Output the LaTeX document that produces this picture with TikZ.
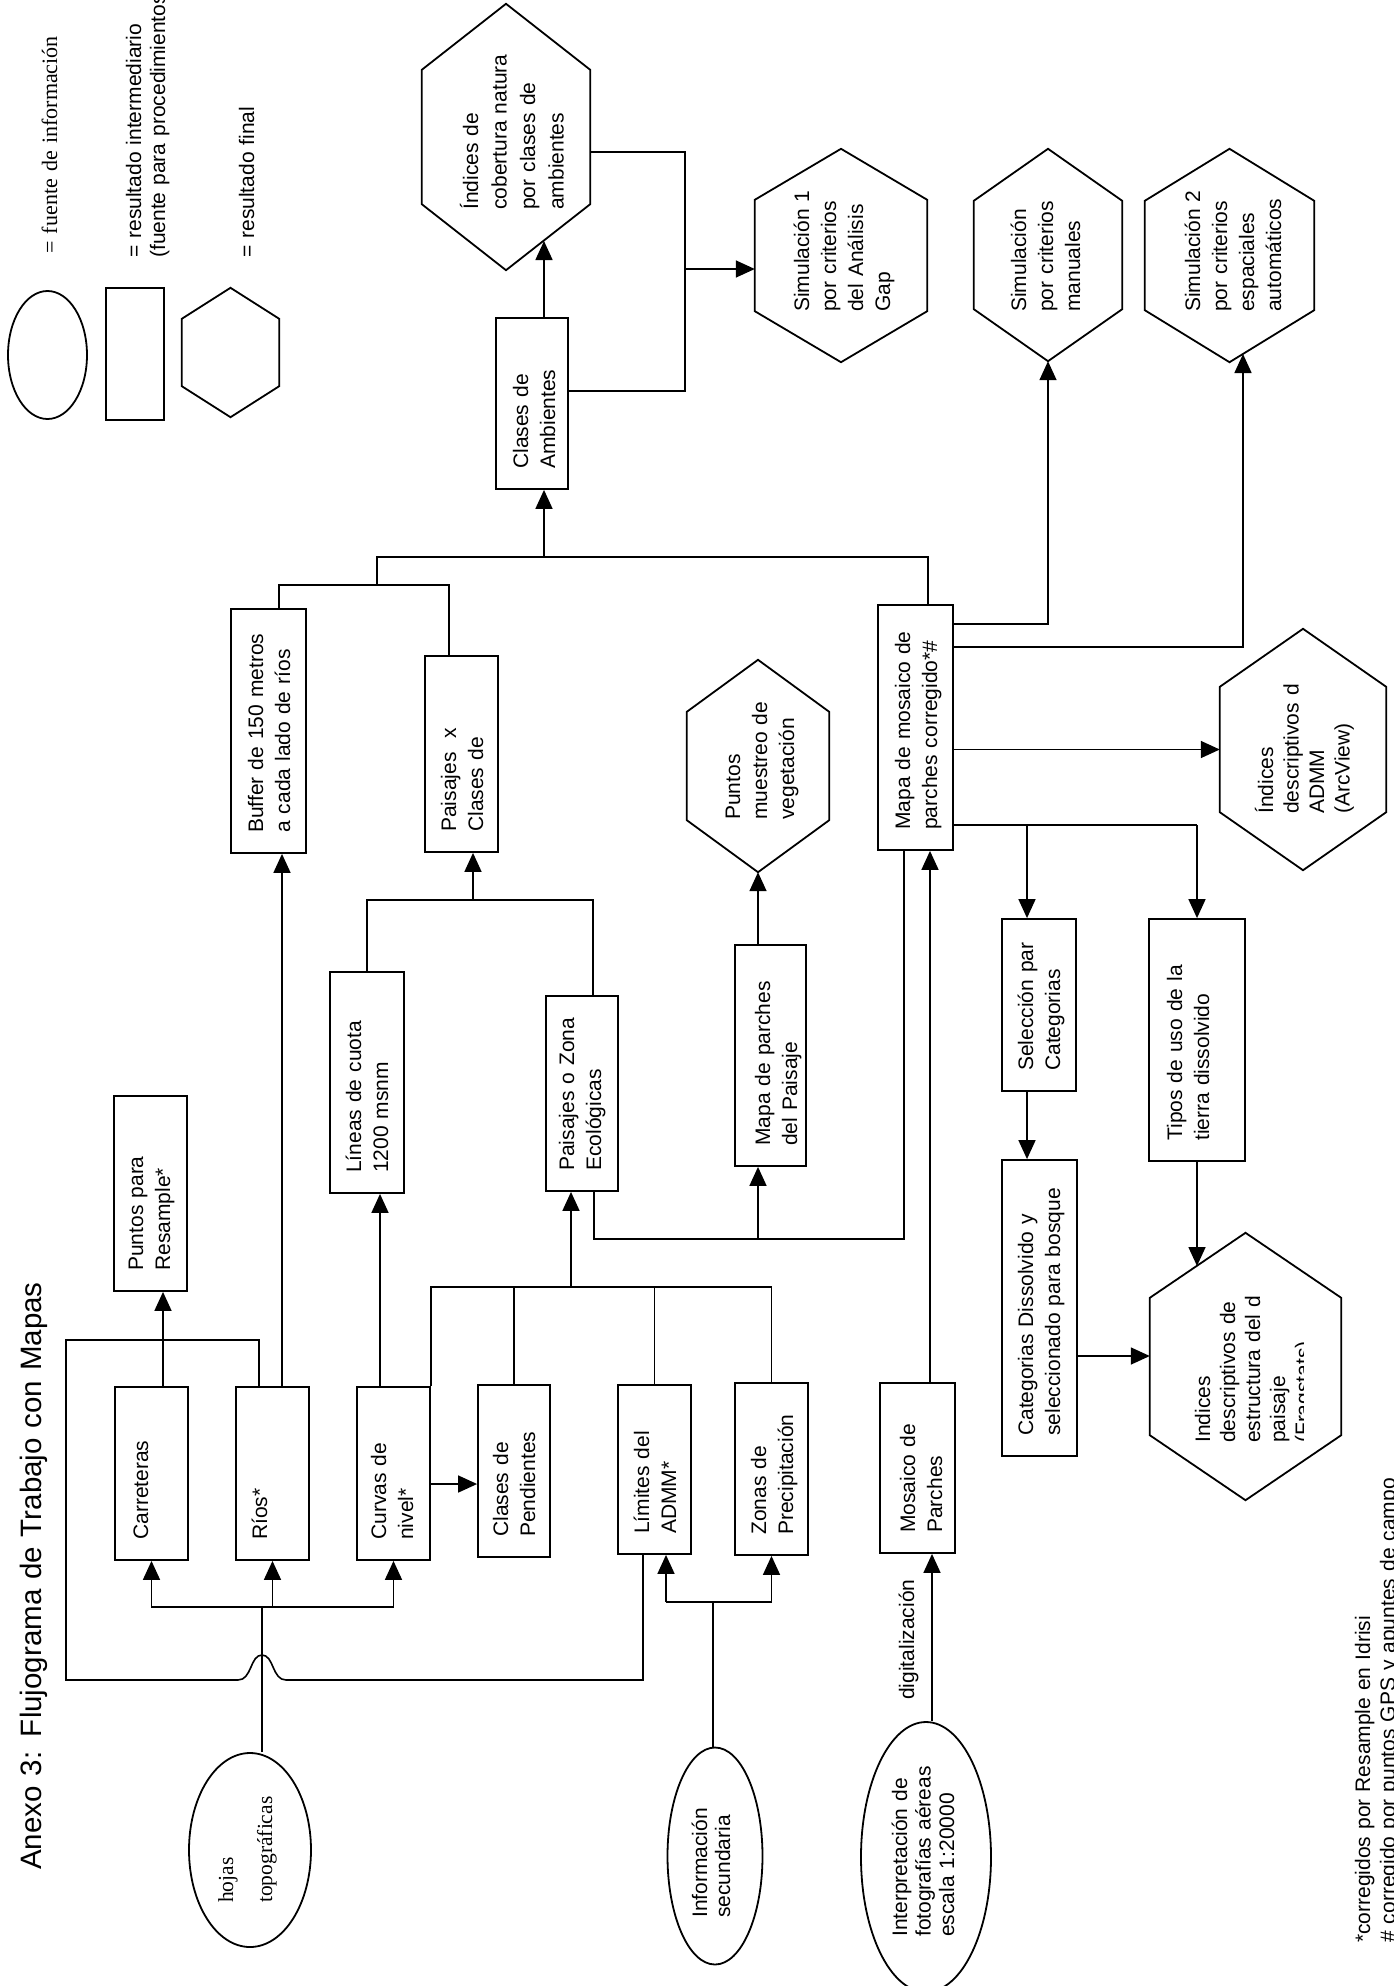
\documentclass[tikz,border=0pt]{standalone}
\usepackage{fontspec}
\setmainfont{Liberation Sans}
\newfontfamily\serifx{Liberation Serif}
\usetikzlibrary{arrows.meta,shapes.geometric}
\newcommand{\mybox}[5]{%
  \node[boxst, minimum width={(#3)-(#2)}, minimum height={(#5)-(#4)}] (#1) at ({((#2)+(#3))/2},{((#4)+(#5))/2}) {};}
\newcommand{\myhex}[6]{%
  \node[hexbb, minimum width={(#3)-(#2)}, minimum height={(#5)-(#4)}] (#1) at ({((#2)+(#3))/2},{((#4)+(#5))/2}) {};
  \draw[shp] (#1.north) -- ([yshift=-#6]#1.north east) -- ([yshift=#6]#1.south east) -- (#1.south) -- ([yshift=#6]#1.south west) -- ([yshift=-#6]#1.north west) -- cycle;}
\begin{document}
\begin{tikzpicture}[x=1pt,y=-1pt,
  shp/.style={draw=black, line width=1.8pt},
  boxst/.style={shp, rectangle, inner sep=0pt},
  hexbb/.style={rectangle, inner sep=0pt},
  ell/.style={shp, ellipse, inner sep=0pt},
  ln/.style={line width=1.6pt},
  arr/.style={ln, -{Triangle[length=19pt,width=17pt]}},
  txt/.style={rotate=90, anchor=base west, inner sep=0pt, align=left, font=\fontsize{21}{27}\selectfont},
]
\fill[white] (0,0) rectangle (1394,1986);
\useasboundingbox (0,0) rectangle (1394,1986);

% ---------- legend ----------
\node[ell, minimum width=79, minimum height=128] (legE) at (47.5,355) {};
\mybox{legR}{106}{164}{288}{420}
\myhex{legH}{182}{279}{288}{417}{31}
\node[txt, font=\serifx\fontsize{22}{26}\selectfont, text width=230] (legT1) at (57,254) {= fuente de información};
\node[txt, font=\fontsize{21}{24}\selectfont, text width=300] (legT2) at (141,258) {= resultado intermediario\\(fuente para procedimientos};
\node[txt, text width=200] (legT3) at (254,258) {= resultado final};

% ---------- title ----------
\node[txt, font=\fontsize{29.5}{35}\selectfont, text width=600] (title) at (41,1870) {Anexo 3: Flujograma de Trabajo con Mapas};

% ---------- hexagons ----------
\myhex{cobert}{422}{590}{4}{270}{66}
\node[txt, font=\fontsize{21}{28.5}\selectfont, text width=220] (cobert-t) at (478,210) {Índices de\\cobertura natura\\por clases de\\ambientes};
\myhex{simA}{755}{927}{149}{362}{51}
\node[txt, text width=180] (simA-t) at (809,312) {Simulación 1\\por criterios\\del Análisis\\Gap};
\myhex{simB}{974}{1122}{149}{361}{52}
\node[txt, text width=180] (simB-t) at (1026,312) {Simulación\\por criterios\\manuales};
\myhex{simC}{1145}{1314}{149}{362}{52}
\node[txt, text width=180] (simC-t) at (1200,312) {Simulación 2\\por criterios\\espaciales\\automáticos};
\myhex{ptsM}{687}{829}{660}{872}{52}
\node[txt, text width=180] (ptsM-t) at (740,820) {Puntos\\muestreo de\\vegetación};
\myhex{admm}{1220}{1386}{629}{870}{58}
\node[txt, font=\fontsize{21}{25.5}\selectfont, text width=200] (admm-t) at (1273,814) {Índices\\descriptivos d\\ADMM\\(ArcView)};
\myhex{frag}{1150}{1341}{1233}{1500}{65}
\begin{scope}
\clip (1150,1233) rectangle (1303,1500);
\node[txt, font=\fontsize{21}{25}\selectfont, text width=230] (frag-t) at (1210,1443) {Indices\\descriptivos de\\estructura del d\\paisaje\\(Fragstats)};
\end{scope}

% ---------- boxes ----------
\mybox{clases}{496}{568}{318}{489}
\node[txt, text width=136] (clases-t) at ([shift={(33,-21)}]clases.south west) {Clases de\\Ambientes};
\mybox{buffer}{231}{306}{609}{853}
\node[txt, text width=210] (buffer-t) at ([shift={(33,-21)}]buffer.south west) {Buffer de 150 metros\\a cada lado de ríos};
\mybox{paisx}{425}{498}{656}{852}
\node[txt, text width=160] (paisx-t) at ([shift={(32,-21)}]paisx.south west) {Paisajes\ \ x\\Clases de};
\mybox{ptsR}{114}{187}{1096}{1291}
\node[txt, text width=160] (ptsR-t) at ([shift={(30,-21)}]ptsR.south west) {Puntos para\\Resample*};
\mybox{lineas}{330}{404}{972}{1193}
\node[txt, text width=185] (lineas-t) at ([shift={(32,-21)}]lineas.south west) {Líneas de cuota\\1200 msnm};
\mybox{paisz}{546}{618}{996}{1191}
\node[txt, text width=160] (paisz-t) at ([shift={(29,-21)}]paisz.south west) {Paisajes o Zona\\Ecológicas};
\mybox{mapaP}{735}{806}{945}{1166}
\node[txt, text width=185] (mapaP-t) at ([shift={(36,-21)}]mapaP.south west) {Mapa de parches\\del Paisaje};
\mybox{mapaM}{878}{953}{605}{850}
\node[txt, text width=210] (mapaM-t) at ([shift={(33,-21)}]mapaM.south west) {Mapa de mosaico de\\parches corregido*\#};
\mybox{selec}{1002}{1076}{919}{1091}
\node[txt, text width=140] (selec-t) at ([shift={(32,-21)}]selec.south west) {Selección par\\Categorias};
\mybox{categ}{1002}{1077}{1160}{1456}
\node[txt, text width=260] (categ-t) at ([shift={(32,-21)}]categ.south west) {Categorias Dissolvido y\\seleccionado para bosque};
\mybox{tipos}{1149}{1245}{919}{1161}
\node[txt, text width=205] (tipos-t) at ([shift={(34,-21)}]tipos.south west) {Tipos de uso de la\\tierra dissolvido};
\mybox{carre}{115}{188}{1387}{1560}
\node[txt, text width=140] (carre-t) at ([shift={(34,-21)}]carre.south west) {Carreteras};
\mybox{rios}{236}{309}{1387}{1560}
\node[txt, text width=140] (rios-t) at ([shift={(32,-21)}]rios.south west) {Ríos*};
\mybox{curvas}{357}{430}{1387}{1560}
\node[txt, text width=140] (curvas-t) at ([shift={(30,-21)}]curvas.south west) {Curvas de\\nivel*};
\mybox{pend}{478}{550}{1385}{1557}
\node[txt, text width=140] (pend-t) at ([shift={(31,-21)}]pend.south west) {Clases de\\Pendientes};
\mybox{limites}{618}{691}{1385}{1554}
\node[txt, text width=140] (limites-t) at ([shift={(32,-21)}]limites.south west) {Límites del\\ADMM*};
\mybox{zonas}{735}{808}{1383}{1555}
\node[txt, text width=140] (zonas-t) at ([shift={(32,-21)}]zonas.south west) {Zonas de\\Precipitación};
\mybox{mosaico}{880}{955}{1383}{1553}
\node[txt, text width=140] (mosaico-t) at ([shift={(36,-21)}]mosaico.south west) {Mosaico de\\Parches};

% ---------- ellipses ----------
\node[ell, minimum width=122, minimum height=194] (hojas) at (250,1850) {};
\node[txt, font=\serifx\fontsize{21.5}{39}\selectfont, text width=150] (hojas-t) at (233,1903) {hojas\\topográficas};
\node[ell, minimum width=95, minimum height=217] (info) at (715,1856) {};
\node[txt, font=\fontsize{21}{23}\selectfont, text width=170] (info-t) at (707,1918) {Información\\secundaria};
\node[ell, minimum width=130, minimum height=270] (interp) at (926,1857) {};
\node[txt, font=\fontsize{21}{23.5}\selectfont, text width=200] (interp-t) at (907,1937) {Interpretación de\\fotografías aéreas\\escala 1:20000};

% ---------- labels / notes ----------
\node[txt, text width=130] (digit) at (914,1700) {digitalización};
\node[txt, font=\fontsize{21}{25}\selectfont, text width=520] (foot) at (1370,1943) {*corregidos por Resample en Idrisi\\\# corregido por puntos GPS y apuntes de campo};

% ---------- connectors ----------
\coordinate (jh) at (262,1607);
\draw[ln] (hojas.north -| jh) -- (jh);
\draw[arr] (jh) -| (carre.south);
\draw[arr] (jh) -| (curvas.south);
\draw[arr] (rios.south |- jh) -- (rios.south);
\coordinate (lpA) at (643,1680);
\draw[ln] (limites.south -| lpA) -- (lpA) -- (286,1680) .. controls (272,1680) and (274,1655) .. (262,1655) .. controls (250,1655) and (252,1680) .. (238,1680) -- (66,1680) -- (66,1340) -- (259,1340) -- (rios.north -| 259,0);
\coordinate (cp) at (163,1340);
\draw[arr] (cp |- carre.north) -- (cp |- ptsR.south);
\coordinate (rb) at (282,1000);
\draw[arr] (rb |- rios.north) -- (rb |- buffer.south);
\coordinate (cl) at (380,1300);
\draw[arr] (cl |- curvas.north) -- (cl |- lineas.south);
\coordinate (cpd) at (450,1484);
\draw[arr] (cpd -| curvas.east) -- (cpd -| pend.west);
\coordinate (jz) at (571,1287);
\draw[ln] (curvas.north east) -- (curvas.north east |- jz) -- (zonas.north |- jz) -- (zonas.north);
\draw[ln] (pend.north) -- (pend.north |- jz);
\draw[ln] (limites.north) -- (limites.north |- jz);
\draw[arr] (jz) -- (jz |- paisz.south);
\coordinate (ji) at (713,1602);
\coordinate (jl) at (666,1602);
\draw[ln] (info.north -| ji) -- (ji);
\draw[ln] (jl) -- (zonas.south |- ji);
\draw[arr] (zonas.south |- ji) -- (zonas.south);
\draw[arr] (jl) -- (limites.south -| jl);
\coordinate (im) at (932,1650);
\draw[arr] (interp.north -| im) -- (mosaico.south -| im);
\coordinate (mm) at (930,1000);
\draw[arr] (mosaico.north -| mm) -- (mapaM.south -| mm);
\coordinate (pzA) at (594,1239);
\coordinate (pzB) at (904,1239);
\coordinate (pzC) at (758,1239);
\draw[ln] (paisz.south -| pzA) -- (pzA) -- (pzB) -- (mapaM.south -| pzB);
\draw[arr] (pzC) -- (mapaP.south -| pzC);
\draw[arr] (mapaP.north -| pzC) -- (ptsM.south);
\coordinate (lp) at (473,900);
\coordinate (lq) at (593,900);
\draw[ln] (lineas.north) -- (lineas.north |- lp) -- (lq) -- (paisz.north -| lq);
\draw[arr] (lp) -- (lp |- paisx.south);
\coordinate (ba) at (279,585);
\coordinate (bb) at (449,585);
\coordinate (bc) at (377,585);
\coordinate (jc) at (544,557);
\coordinate (bd) at (928,557);
\draw[ln] (buffer.north -| ba) -- (ba) -- (bb) -- (paisx.north -| bb);
\draw[ln] (bc) -- (bc |- jc) -- (bd) -- (mapaM.north -| bd);
\draw[arr] (jc) -- (jc |- clases.south);
\coordinate (cin) at (544,241);
\draw[arr] (clases.north -| cin) -- (cin);
\coordinate (js) at (685,269);
\draw[ln] (cobert.east |- 0,152) -- (685,152) -- (685,391) -- (clases.east |- 0,391);
\draw[arr] (js) -- (js -| simA.west);
\draw[arr] (mapaM.east |- 0,624) -| (simB.south);
\coordinate (sc) at (1243,354);
\draw[arr] (mapaM.east |- 0,647) -| (sc);
\draw[arr] (mapaM.east |- admm.west) -- (admm.west);
\coordinate (st) at (1027,825);
\draw[ln] (mapaM.east |- st) -- (tipos.north |- st);
\draw[arr] (st) -- (st |- selec.north);
\draw[arr] (tipos.north |- st) -- (tipos.north);
\draw[arr] (st |- selec.south) -- (st |- categ.north);
\draw[arr] (categ.east |- 0,1356) -- (frag.west |- 0,1356);
\coordinate (tf) at (1197,1266);
\draw[arr] (tipos.south) -- (tf);
\end{tikzpicture}
\end{document}
